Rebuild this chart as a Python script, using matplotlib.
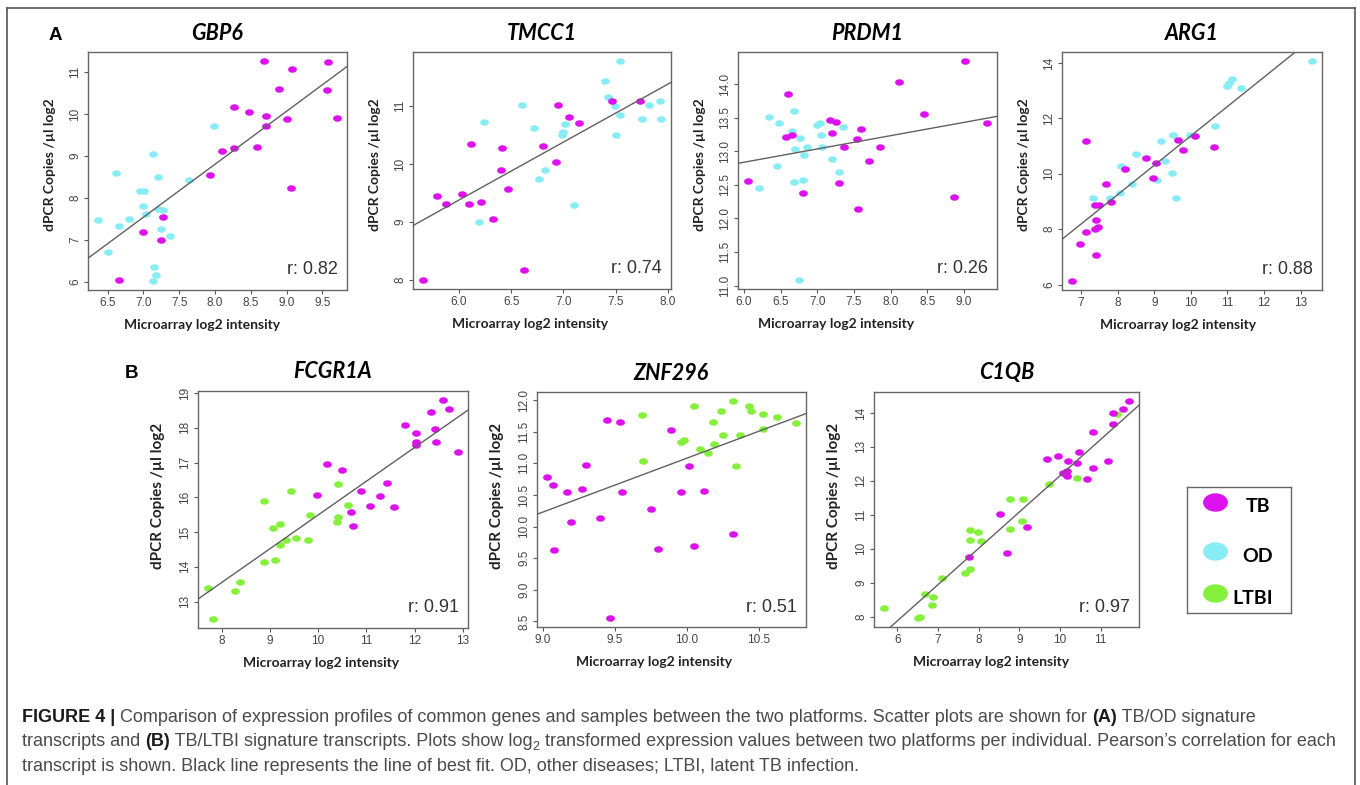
import numpy as np
import matplotlib.pyplot as plt
from matplotlib.path import Path
from matplotlib.transforms import Affine2D
from matplotlib.lines import Line2D

W, H = 1360, 785

TB_COL = '#dd11ee'
OD_COL = '#88ecf4'
LTBI_COL = '#84f03c'
LABEL_FONT = ['Lato', 'DejaVu Sans']
TICK_FONT = ['Liberation Sans', 'DejaVu Sans']

# ---- values ----
gbp6_tb_x = [8.69, 9.58, 9.08, 8.90, 9.57, 8.26, 8.48, 8.71, 9.00, 9.71,
             8.71, 8.26, 8.59, 8.10, 7.93, 9.06, 7.28, 6.99, 7.25, 6.66]
gbp6_tb_y = [11.27, 11.23, 11.07, 10.61, 10.57, 10.17, 10.04, 9.96, 9.88, 9.91,
             9.71, 9.19, 9.21, 9.11, 8.55, 8.23, 7.54, 7.20, 6.99, 6.06]
gbp6_od_x = [7.98, 7.13, 6.62, 7.20, 7.64, 6.95, 7.01, 6.99, 7.20, 7.27,
             7.03, 6.36, 6.80, 6.66, 7.25, 7.37, 6.50, 7.15, 7.17, 7.14]
gbp6_od_y = [9.71, 9.06, 8.59, 8.50, 8.42, 8.18, 8.16, 7.81, 7.75, 7.71,
             7.63, 7.48, 7.51, 7.34, 7.27, 7.09, 6.71, 6.35, 6.16, 6.02]

tmcc1_tb_x = [5.65, 5.79, 5.87, 6.03, 6.10, 6.11, 6.21, 6.33, 6.41, 6.40,
              6.47, 6.62, 6.80, 6.93, 6.95, 7.05, 7.15, 7.47, 7.73]
tmcc1_tb_y = [8.00, 9.45, 9.32, 9.49, 9.32, 10.35, 9.34, 9.06, 10.27, 9.90,
              9.57, 8.17, 10.31, 10.03, 11.01, 10.82, 10.70, 11.08, 11.09]
tmcc1_od_x = [6.24, 6.19, 6.60, 6.72, 6.77, 6.82, 6.99, 7.00, 7.02, 7.10,
              7.40, 7.43, 7.49, 7.50, 7.54, 7.54, 7.75, 7.82, 7.93, 7.94]
tmcc1_od_y = [10.73, 9.01, 11.01, 10.63, 9.74, 9.89, 10.50, 10.56, 10.69, 9.30,
              11.43, 11.15, 11.00, 10.51, 10.84, 11.78, 10.78, 11.01, 11.09, 10.77]

prdm1_tb_x = [6.05, 6.60, 6.58, 6.65, 6.80, 7.17, 7.25, 7.20, 7.29, 7.36,
              7.54, 7.59, 7.55, 7.70, 7.86, 8.12, 8.45, 8.87, 9.01, 9.32]
prdm1_tb_y = [12.56, 13.86, 13.21, 13.25, 12.38, 13.47, 13.44, 13.28, 12.53, 13.06,
              13.19, 13.33, 12.14, 12.86, 13.06, 14.04, 13.55, 12.32, 14.35, 13.43]
prdm1_od_x = [6.20, 6.34, 6.45, 6.48, 6.68, 6.66, 6.70, 6.68, 6.76, 6.80,
              6.82, 6.86, 7.00, 7.04, 7.05, 7.07, 7.20, 7.30, 7.35, 6.75]
prdm1_od_y = [12.46, 13.51, 12.78, 13.43, 13.60, 13.31, 13.04, 12.55, 13.20, 12.57,
              12.95, 13.06, 13.39, 13.42, 13.25, 13.06, 12.88, 12.69, 13.36, 11.08]

arg1_tb_x = [6.74, 6.98, 7.14, 7.12, 7.37, 7.40, 7.41, 7.45, 7.39, 7.50,
             7.69, 7.82, 8.20, 8.77, 8.97, 9.05, 9.64, 9.79, 10.12, 10.64]
arg1_tb_y = [6.12, 7.45, 11.17, 7.91, 8.01, 7.06, 8.32, 8.07, 8.87, 8.87,
             9.64, 8.97, 10.17, 10.57, 9.85, 10.38, 11.22, 10.85, 11.36, 10.95]
arg1_od_x = [7.33, 7.80, 8.07, 8.09, 8.39, 8.49, 9.07, 9.18, 9.28, 9.47,
             9.52, 9.60, 9.98, 10.66, 11.00, 11.03, 11.11, 11.38, 13.32]
arg1_od_y = [9.11, 9.12, 9.29, 10.28, 9.64, 10.71, 9.77, 11.19, 10.45, 10.02,
             11.41, 9.11, 11.41, 11.74, 13.17, 13.27, 13.43, 13.11, 14.08]

fcgr1a_tb_x = [9.97, 10.18, 10.50, 10.89, 11.42, 11.28, 11.08, 11.57, 10.68, 10.73,
               11.81, 12.03, 12.04, 12.04, 12.35, 12.42, 12.44, 12.58, 12.72, 12.90]
fcgr1a_tb_y = [16.08, 16.97, 16.80, 16.18, 16.41, 16.03, 15.76, 15.73, 15.58, 15.18,
               18.08, 17.85, 17.58, 17.52, 18.47, 17.97, 17.58, 18.81, 18.54, 17.30]
fcgr1a_ltbi_x = [7.72, 7.83, 8.28, 8.39, 8.87, 8.89, 9.06, 9.10, 9.22, 9.22,
                 9.34, 9.45, 9.54, 9.83, 9.79, 10.42, 10.41, 10.39, 10.63]
fcgr1a_ltbi_y = [13.39, 12.49, 13.29, 13.56, 15.90, 14.13, 15.11, 14.20, 15.22, 14.62,
                 14.76, 16.18, 14.82, 15.50, 14.77, 16.39, 15.44, 15.30, 15.79]

znf296_tb_x = [9.03, 9.07, 9.08, 9.17, 9.20, 9.27, 9.30, 9.40, 9.45, 9.47,
               9.54, 9.55, 9.75, 9.80, 9.89, 9.96, 10.02, 10.05, 10.12, 10.32]
znf296_tb_y = [10.79, 10.65, 9.63, 10.54, 10.07, 10.59, 10.97, 10.13, 11.69, 8.55,
               11.65, 10.55, 10.28, 9.64, 11.53, 10.54, 10.95, 9.69, 10.57, 9.88]
znf296_ltbi_x = [9.69, 9.70, 9.96, 9.98, 10.05, 10.09, 10.15, 10.18, 10.19, 10.24,
                 10.25, 10.32, 10.34, 10.37, 10.43, 10.45, 10.53, 10.53, 10.63, 10.76]
znf296_ltbi_y = [11.77, 11.04, 11.33, 11.37, 11.91, 11.23, 11.17, 11.66, 11.31, 11.83,
                 11.44, 11.99, 10.96, 11.44, 11.90, 11.83, 11.78, 11.55, 11.73, 11.64]

c1qb_tb_x = [7.76, 8.52, 8.70, 9.20, 9.69, 9.96, 10.08, 10.17, 10.18, 10.20,
             10.42, 10.46, 10.66, 10.81, 10.80, 11.19, 11.30, 11.30, 11.54, 11.70]
c1qb_tb_y = [9.76, 11.01, 9.87, 10.64, 12.64, 12.73, 12.23, 12.29, 12.15, 12.59,
             12.52, 12.86, 12.05, 12.38, 13.43, 12.58, 13.67, 13.99, 14.13, 14.36]
c1qb_ltbi_x = [5.67, 6.52, 6.57, 6.68, 6.85, 6.88, 7.11, 7.67, 7.79, 7.79,
               7.79, 7.99, 8.06, 8.77, 8.77, 9.07, 9.08, 9.74, 10.41, 11.41]
c1qb_ltbi_y = [8.25, 7.95, 8.00, 8.66, 8.34, 8.59, 9.13, 9.27, 9.39, 10.27,
               10.56, 10.50, 10.24, 11.46, 10.58, 10.81, 11.46, 11.92, 12.07, 13.97]

# line of best fit (intercept, slope) and Pearson r as printed
fits = {'GBP6': (-1.29, 1.262), 'TMCC1': (3.40, 0.997), 'PRDM1': (11.65, 0.198),
        'ARG1': (0.76, 1.061), 'FCGR1A': (5.76, 0.973), 'ZNF296': (2.56, 0.852),
        'C1QB': (1.45, 1.070)}
r_labels = {'GBP6': '0.82', 'TMCC1': '0.74', 'PRDM1': '0.26', 'ARG1': '0.88',
            'FCGR1A': '0.91', 'ZNF296': '0.51', 'C1QB': '0.97'}

gbp6_xticks = ['6.5', '7.0', '7.5', '8.0', '8.5', '9.0', '9.5']
gbp6_yticks = ['6', '7', '8', '9', '10', '11']
tmcc1_xticks = ['6.0', '6.5', '7.0', '7.5', '8.0']
tmcc1_yticks = ['8', '9', '10', '11']
prdm1_xticks = ['6.0', '6.5', '7.0', '7.5', '8.0', '8.5', '9.0']
prdm1_yticks = ['11.0', '11.5', '12.0', '12.5', '13.0', '13.5', '14.0']
arg1_xticks = ['7', '8', '9', '10', '11', '12', '13']
arg1_yticks = ['6', '8', '10', '12', '14']
fcgr1a_xticks = ['8', '9', '10', '11', '12', '13']
fcgr1a_yticks = ['13', '14', '15', '16', '17', '18', '19']
znf296_xticks = ['9.0', '9.5', '10.0', '10.5']
znf296_yticks = ['8.5', '9.0', '9.5', '10.0', '10.5', '11.0', '11.5', '12.0']
c1qb_xticks = ['6', '7', '8', '9', '10', '11']
c1qb_yticks = ['8', '9', '10', '11', '12', '13', '14']

panels = [
    ('GBP6', [(gbp6_od_x, gbp6_od_y, OD_COL), (gbp6_tb_x, gbp6_tb_y, TB_COL)],
     gbp6_xticks, gbp6_yticks, (88, 52, 347, 290), -15, 'A'),
    ('TMCC1', [(tmcc1_od_x, tmcc1_od_y, OD_COL), (tmcc1_tb_x, tmcc1_tb_y, TB_COL)],
     tmcc1_xticks, tmcc1_yticks, (413, 52, 671, 289), -12, 'A'),
    ('PRDM1', [(prdm1_od_x, prdm1_od_y, OD_COL), (prdm1_tb_x, prdm1_tb_y, TB_COL)],
     prdm1_xticks, prdm1_yticks, (738, 52, 997, 289), -31, 'A'),
    ('ARG1', [(arg1_od_x, arg1_od_y, OD_COL), (arg1_tb_x, arg1_tb_y, TB_COL)],
     arg1_xticks, arg1_yticks, (1062, 52, 1322, 290), -14, 'A'),
    ('FCGR1A', [(fcgr1a_ltbi_x, fcgr1a_ltbi_y, LTBI_COL), (fcgr1a_tb_x, fcgr1a_tb_y, TB_COL)],
     fcgr1a_xticks, fcgr1a_yticks, (198, 391, 468, 628), -12, 'B'),
    ('ZNF296', [(znf296_ltbi_x, znf296_ltbi_y, LTBI_COL), (znf296_tb_x, znf296_tb_y, TB_COL)],
     znf296_xticks, znf296_yticks, (537, 392, 806, 627), -17, 'B'),
    ('C1QB', [(c1qb_ltbi_x, c1qb_ltbi_y, LTBI_COL), (c1qb_tb_x, c1qb_tb_y, TB_COL)],
     c1qb_xticks, c1qb_yticks, (874, 392, 1139, 627), -15, 'B'),
]

fig = plt.figure(figsize=(W / 100, H / 100), dpi=100)


def px_rect(l, t, r, b):
    return [l / W, 1 - b / H, (r - l) / W, (b - t) / H]


def ftext(x, y, s, **kw):
    return fig.text(x / W, 1 - y / H, s, **kw)


# elliptical dots (the original panels were stretched sideways)
dot = Path.unit_circle().transformed(Affine2D().scale(1.0, 0.74))

for gene, groups, xtl, ytl, box, xlab_off, row in panels:
    l, t, r, b = box
    ax = fig.add_axes(px_rect(l, t, r, b))
    for x, y, col in groups:
        ax.scatter(x, y, s=40, marker=dot, c=col, linewidths=0, zorder=2)

    # R-style axis range: data range padded by 4% on each side
    allx = np.concatenate([g[0] for g in groups])
    ally = np.concatenate([g[1] for g in groups])
    dx, dy = np.ptp(allx), np.ptp(ally)
    ax.set_xlim(allx.min() - 0.04 * dx, allx.max() + 0.04 * dx)
    ax.set_ylim(ally.min() - 0.04 * dy, ally.max() + 0.04 * dy)

    b0, b1 = fits[gene]
    ax.axline((0, b0), slope=b1, color='#606060', lw=1.0, zorder=3)

    ax.set_xticks([float(v) for v in xtl])
    ax.set_xticklabels(xtl, fontfamily=TICK_FONT, fontsize=8.5, color='#444444')
    ax.set_yticks([float(v) for v in ytl])
    ax.set_yticklabels(ytl, fontfamily=TICK_FONT, fontsize=8.5, color='#444444',
                       rotation=90, va='center')
    ax.tick_params(length=3, width=0.8, color='#555555', pad=2)
    for sp in ax.spines.values():
        sp.set_color('#666666')
        sp.set_linewidth(1.0)

    ftext(r - 9, b - 20, 'r: ' + r_labels[gene], ha='right', va='center',
          fontsize=13, fontfamily=TICK_FONT, color='#333333')
    ftext((l + r) / 2, t - 19, gene, ha='center', va='center', fontsize=15.5,
          fontfamily=LABEL_FONT, fontweight='bold', fontstyle='italic')
    ftext((l + r) / 2 + xlab_off, b + 35, 'Microarray log2 intensity',
          ha='center', va='center', fontsize=10, fontfamily=LABEL_FONT,
          fontweight='bold', color='#222222')
    if row == 'A':
        ftext(l - 38, (t + b) / 2 - 6, 'dPCR Copies /µl log2', rotation=90,
              ha='center', va='center', fontsize=10, fontfamily=LABEL_FONT,
              fontweight='bold', color='#222222')
    else:
        ftext(l - 40, (t + b) / 2 - 14, 'dPCR Copies /µl log2', rotation=90,
              ha='center', va='center', fontsize=11, fontfamily=LABEL_FONT,
              fontweight='bold', color='#222222')

ftext(55, 36, 'A', ha='center', va='center', fontsize=13.5,
      fontfamily=TICK_FONT, fontweight='bold')
ftext(132, 373, 'B', ha='center', va='center', fontsize=13.5,
      fontfamily=TICK_FONT, fontweight='bold')

# legend box
lax = fig.add_axes(px_rect(1187, 487, 1291, 613))
lax.set_xlim(0, 104)
lax.set_ylim(126, 0)
lax.set_xticks([])
lax.set_yticks([])
for sp in lax.spines.values():
    sp.set_color('#666666')
    sp.set_linewidth(1.0)
leg_names = ['TB', 'OD', 'LTBI']
leg_cols = [TB_COL, OD_COL, LTBI_COL]
for i, (name, col) in enumerate(zip(leg_names, leg_cols)):
    my = [15, 64, 106][i]
    lax.scatter([28], [my], s=320, marker=dot, c=col, linewidths=0)
    lax.text([71, 71, 66][i], my + 5, name, ha='center', va='center',
             fontsize=14, fontfamily=LABEL_FONT, fontweight='bold')

# outer frame
frame = dict(transform=fig.transFigure, color='#555555', lw=1.2)
fig.add_artist(Line2D([7 / W, 7 / W], [0, 1 - 8 / H], **frame))
fig.add_artist(Line2D([7 / W, 1355 / W], [1 - 8 / H, 1 - 8 / H], **frame))
fig.add_artist(Line2D([1355 / W, 1355 / W], [0, 1 - 8 / H], **frame))

# caption
cap_lines = [
    [('FIGURE 4 | ', 'b'),
     ('Comparison of expression profiles of common genes and samples between the two '
      'platforms. Scatter plots are shown for ', 'n'),
     ('(A)', 'b'), (' TB/OD signature', 'n')],
    [('transcripts and ', 'n'), ('(B)', 'b'),
     (' TB/LTBI signature transcripts. Plots show log', 'n'), ('2', 's'),
     (' transformed expression values between two platforms per individual. '
      'Pearson\u2019s correlation for each', 'n')],
    [('transcript is shown. Black line represents the line of best fit. OD, other '
      'diseases; LTBI, latent TB infection.', 'n')],
]
renderer = fig.canvas.get_renderer()


def seg_kw(kind, size):
    kw = dict(fontfamily=TICK_FONT, fontsize=size, color='#4a4a4a')
    if kind == 'b':
        kw.update(fontweight='bold', color='#1a1a1a')
    if kind == 's':
        kw.update(fontsize=size * 0.7)
    return kw


def seg_width(text, kw):
    t1 = fig.text(0, 0, text + 'x', **kw)
    t2 = fig.text(0, 0, 'x', **kw)
    w = t1.get_window_extent(renderer).width - t2.get_window_extent(renderer).width
    t1.remove()
    t2.remove()
    return w


ref = sum(seg_width(s, seg_kw(k, 10)) for s, k in cap_lines[1])
cap_size = 10 * (1337 - 22) / ref

for line, base in zip(cap_lines, [722, 746.5, 771]):
    x = 22
    for s, k in line:
        kw = seg_kw(k, cap_size)
        yy = base + (3 if k == 's' else 0)
        ftext(x, yy, s, ha='left', va='baseline', **kw)
        x += seg_width(s, kw)

fig.savefig('out.png', dpi=100)
